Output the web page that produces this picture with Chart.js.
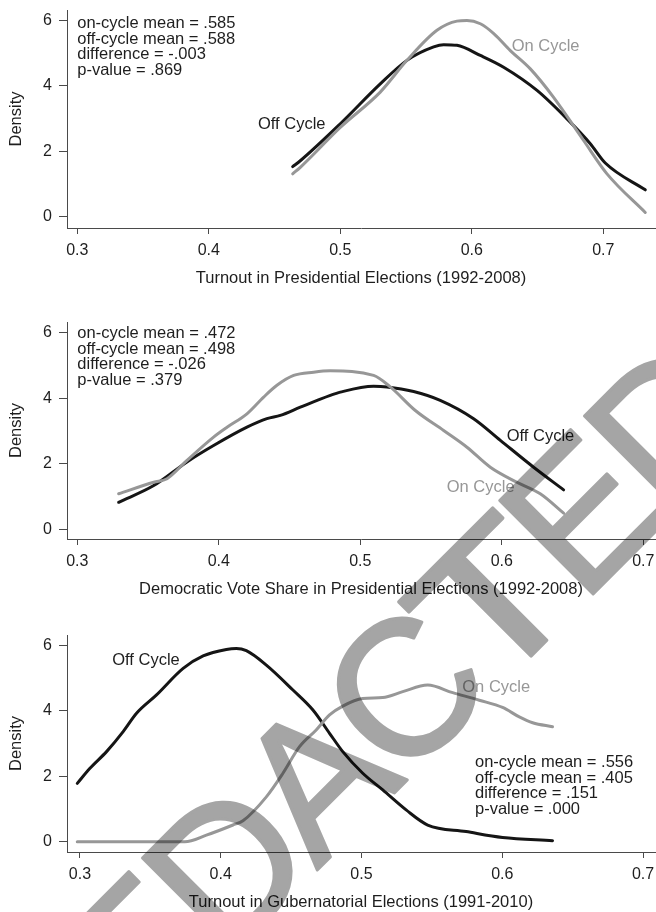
<!DOCTYPE html>
<html>
<head>
<meta charset="utf-8">
<script src="https://cdn.jsdelivr.net/npm/chart.js@4.4.1/dist/chart.umd.min.js"></script>
<style>
  html, body { margin: 0; padding: 0; background: #fff; overflow: hidden; }
  .panel { position: absolute; left: 0; width: 656px; }
</style>
</head>
<body>
<div class="panel" style="top:0px"><canvas id="c1" width="656" height="288"></canvas></div>
<div class="panel" style="top:288px"><canvas id="c2" width="656" height="311"></canvas></div>
<div class="panel" style="top:599px"><canvas id="c3" width="656" height="313"></canvas></div>
<script>
// tick labels
const xTicks = [0.3, 0.4, 0.5, 0.6, 0.7]
const yTicks = [0, 2, 4, 6]

// turnout in presidential elections
const presOffX = [0.4638, 0.4696, 0.5, 0.5304, 0.5507, 0.571, 0.5786, 0.5887, 0.6065, 0.6242, 0.6496, 0.6724, 0.6901, 0.7015, 0.7319]
const presOffY = [1.53, 1.71, 2.84, 4.06, 4.78, 5.19, 5.26, 5.24, 4.93, 4.57, 3.86, 2.99, 2.23, 1.64, 0.82]
const presOnX = [0.4638, 0.4696, 0.5, 0.5304, 0.5507, 0.5735, 0.5887, 0.5963, 0.6065, 0.6167, 0.6293, 0.6445, 0.6622, 0.685, 0.7028, 0.7319]
const presOnY = [1.31, 1.51, 2.73, 3.81, 4.78, 5.70, 5.98, 6.00, 5.90, 5.60, 5.08, 4.52, 3.65, 2.33, 1.31, 0.13]

// democratic vote share
const demOffX = [0.3292, 0.354, 0.3775, 0.3963, 0.4199, 0.434, 0.4435, 0.4576, 0.4788, 0.4859, 0.5094, 0.5189, 0.5377, 0.5565, 0.5801, 0.599, 0.6225, 0.6437]
const demOffY = [0.83, 1.34, 2.06, 2.56, 3.12, 3.38, 3.48, 3.73, 4.09, 4.19, 4.37, 4.35, 4.21, 3.94, 3.38, 2.72, 1.90, 1.21]
const demOnX = [0.3292, 0.354, 0.3634, 0.3775, 0.3963, 0.4058, 0.4199, 0.4317, 0.4411, 0.4529, 0.467, 0.4788, 0.5094, 0.5212, 0.5389, 0.5589, 0.5754, 0.5919, 0.6107, 0.6272, 0.6437]
const demOnY = [1.09, 1.44, 1.55, 2.11, 2.82, 3.12, 3.53, 4.04, 4.40, 4.70, 4.80, 4.84, 4.70, 4.35, 3.63, 3.02, 2.51, 1.90, 1.44, 1.09, 0.50]

// turnout in gubernatorial elections
const gubOffX = [0.2981, 0.3071, 0.3189, 0.3307, 0.3402, 0.3544, 0.3733, 0.3875, 0.404, 0.4111, 0.4182, 0.4324, 0.4513, 0.4655, 0.4773, 0.4867, 0.5009, 0.5151, 0.5317, 0.547, 0.5743, 0.6002, 0.6357]
const gubOffY = [1.78, 2.24, 2.75, 3.36, 3.92, 4.48, 5.29, 5.67, 5.87, 5.90, 5.83, 5.39, 4.63, 4.02, 3.31, 2.75, 2.09, 1.58, 0.97, 0.51, 0.31, 0.13, 0.03]
const gubOnX = [0.2981, 0.3745, 0.3898, 0.4087, 0.4158, 0.4324, 0.4442, 0.456, 0.4678, 0.4773, 0.4867, 0.5009, 0.5151, 0.5293, 0.547, 0.5648, 0.5837, 0.6002, 0.6121, 0.6216, 0.6357]
const gubOnY = [0, 0, 0.2, 0.51, 0.64, 1.37, 2.09, 2.90, 3.41, 3.87, 4.14, 4.37, 4.40, 4.58, 4.78, 4.55, 4.32, 4.10, 3.81, 3.63, 3.51]

const presStats = ['on-cycle mean = .585', 'off-cycle mean = .588', 'difference = -.003', 'p-value = .869']
const demStats = ['on-cycle mean = .472', 'off-cycle mean = .498', 'difference = -.026', 'p-value = .379']
const gubStats = ['on-cycle mean = .556', 'off-cycle mean = .405', 'difference = .151', 'p-value = .000']

const FONT = '"Liberation Sans", Arial, Helvetica, sans-serif'
const black = '#151515'
const gray = '#979797'
const axisColor = '#4a4a4a'
const textColor = '#1e1e1e'

Chart.defaults.font.family = FONT
Chart.defaults.color = textColor

const pts = (xs, ys) => xs.map((x, i) => ({ x: x, y: ys[i] }))

// text notes placed in data units
const notes = {
  id: 'notes',
  afterDatasetsDraw(chart, args, opts) {
    const ctx = chart.ctx
    const sx = chart.scales.x, sy = chart.scales.y
    ctx.save()
    ctx.font = '16.5px ' + FONT
    ctx.textAlign = 'left'
    ctx.textBaseline = 'middle'
    opts.items.forEach(n => {
      const px = sx.getPixelForValue(n.x)
      const py = sy.getPixelForValue(n.y)
      ctx.fillStyle = n.color
      n.lines.forEach((t, i) => ctx.fillText(t, px, py + i * 15.6))
    })
    ctx.restore()
  }
}

// grey "REDACTED" stamp over the whole page: painted once off screen,
// then laid over each panel with multiply so the lines show through
const stampCanvas = document.createElement('canvas')
stampCanvas.width = 656
stampCanvas.height = 912
;(function () {
  const c = stampCanvas.getContext('2d')
  const word = 'REDACTED'
  const ang = -45 * Math.PI / 180
  const step = 125
  const size = 192
  c.font = size + 'px ' + FONT
  c.fillStyle = '#a5a5a5'
  c.strokeStyle = '#a5a5a5'
  c.lineWidth = 3
  c.lineJoin = 'round'
  c.textAlign = 'center'
  c.textBaseline = 'alphabetic'
  for (let i = 0; i < word.length; i++) {
    const k = i - 4
    c.save()
    c.translate(402 + k * step * Math.cos(ang), 688 + k * step * Math.sin(ang))
    c.rotate(ang)
    if (word[i] === 'T') c.scale(1.22, 1)
    c.fillText(word[i], 0, 0.358 * size)
    c.strokeText(word[i], 0, 0.358 * size)
    c.restore()
  }
})()

const stamp = {
  id: 'stamp',
  afterDraw(chart) {
    const ctx = chart.ctx
    const top = chart.canvas.parentNode.offsetTop
    const h = chart.height
    ctx.save()
    ctx.globalCompositeOperation = 'multiply'
    ctx.drawImage(stampCanvas, 0, top, 656, h, 0, 0, 656, h)
    ctx.restore()
  }
}

function makeChart(id, cfg) {
  return new Chart(document.getElementById(id), {
    type: 'line',
    data: {
      datasets: [
        { label: 'On Cycle', data: cfg.on, borderColor: gray, borderWidth: 3 },
        { label: 'Off Cycle', data: cfg.off, borderColor: black, borderWidth: 3 }
      ]
    },
    options: {
      responsive: false,
      animation: false,
      parsing: false,
      events: [],
      elements: {
        point: { radius: 0 },
        line: { cubicInterpolationMode: 'monotone', borderCapStyle: 'round', borderJoinStyle: 'round' }
      },
      layout: { padding: { top: cfg.top, right: 1, left: 0, bottom: 0 } },
      scales: {
        x: {
          type: 'linear',
          min: cfg.xmin,
          max: cfg.xmax,
          afterBuildTicks: s => { s.ticks = xTicks.map(v => ({ value: v })) },
          afterFit: s => { s.height = 60; s.paddingLeft = 0; s.paddingRight = 0 },
          grid: { drawOnChartArea: false, drawTicks: true, tickLength: 6, tickColor: axisColor },
          border: { display: true, color: axisColor, width: 1 },
          ticks: { color: textColor, font: { size: 16 }, padding: 6.5, maxRotation: 0, autoSkip: false, callback: v => v.toFixed(1) },
          title: { display: true, text: cfg.title, color: textColor, font: { size: 16.5 }, padding: { top: 0, bottom: 0 } }
        },
        y: {
          type: 'linear',
          min: cfg.ymin,
          max: cfg.ymax,
          afterBuildTicks: s => { s.ticks = yTicks.map(v => ({ value: v })) },
          afterFit: s => { s.width = 67; s.paddingTop = 0; s.paddingBottom = 0 },
          grid: { drawOnChartArea: false, drawTicks: true, tickLength: 8, tickColor: axisColor },
          border: { display: true, color: axisColor, width: 1 },
          ticks: { color: textColor, font: { size: 16 }, padding: 7 },
          title: { display: true, text: 'Density', color: textColor, font: { size: 16.5 }, padding: { top: 7, bottom: 0 } }
        }
      },
      plugins: {
        legend: { display: false },
        tooltip: { enabled: false },
        notes: { items: cfg.notes }
      }
    },
    plugins: [notes, stamp]
  })
}

makeChart('c1', {
  on: pts(presOnX, presOnY), off: pts(presOffX, presOffY),
  top: 10, xmin: 0.2922, xmax: 0.7393, ymin: -0.346, ymax: 6.32,
  title: 'Turnout in Presidential Elections (1992-2008)',
  notes: [
    { x: 0.3, y: 5.91, lines: presStats, color: textColor },
    { x: 0.4374, y: 2.83, lines: ['Off Cycle'], color: textColor },
    { x: 0.6303, y: 5.20, lines: ['On Cycle'], color: gray }
  ]
})

makeChart('c2', {
  on: pts(demOnX, demOnY), off: pts(demOffX, demOffY),
  top: 34, xmin: 0.2927, xmax: 0.7083, ymin: -0.29, ymax: 6.33,
  title: 'Democratic Vote Share in Presidential Elections (1992-2008)',
  notes: [
    { x: 0.3, y: 5.98, lines: demStats, color: textColor },
    { x: 0.6035, y: 2.83, lines: ['Off Cycle'], color: textColor },
    { x: 0.5611, y: 1.29, lines: ['On Cycle'], color: gray }
  ]
})

makeChart('c3', {
  on: pts(gubOnX, gubOnY), off: pts(gubOffX, gubOffY),
  top: 36, xmin: 0.2908, xmax: 0.7085, ymin: -0.314, ymax: 6.31,
  title: 'Turnout in Gubernatorial Elections (1991-2010)',
  notes: [
    { x: 0.5806, y: 2.42, lines: gubStats, color: textColor },
    { x: 0.3229, y: 5.54, lines: ['Off Cycle'], color: textColor },
    { x: 0.5716, y: 4.71, lines: ['On Cycle'], color: gray }
  ]
})
</script>
</body>
</html>
